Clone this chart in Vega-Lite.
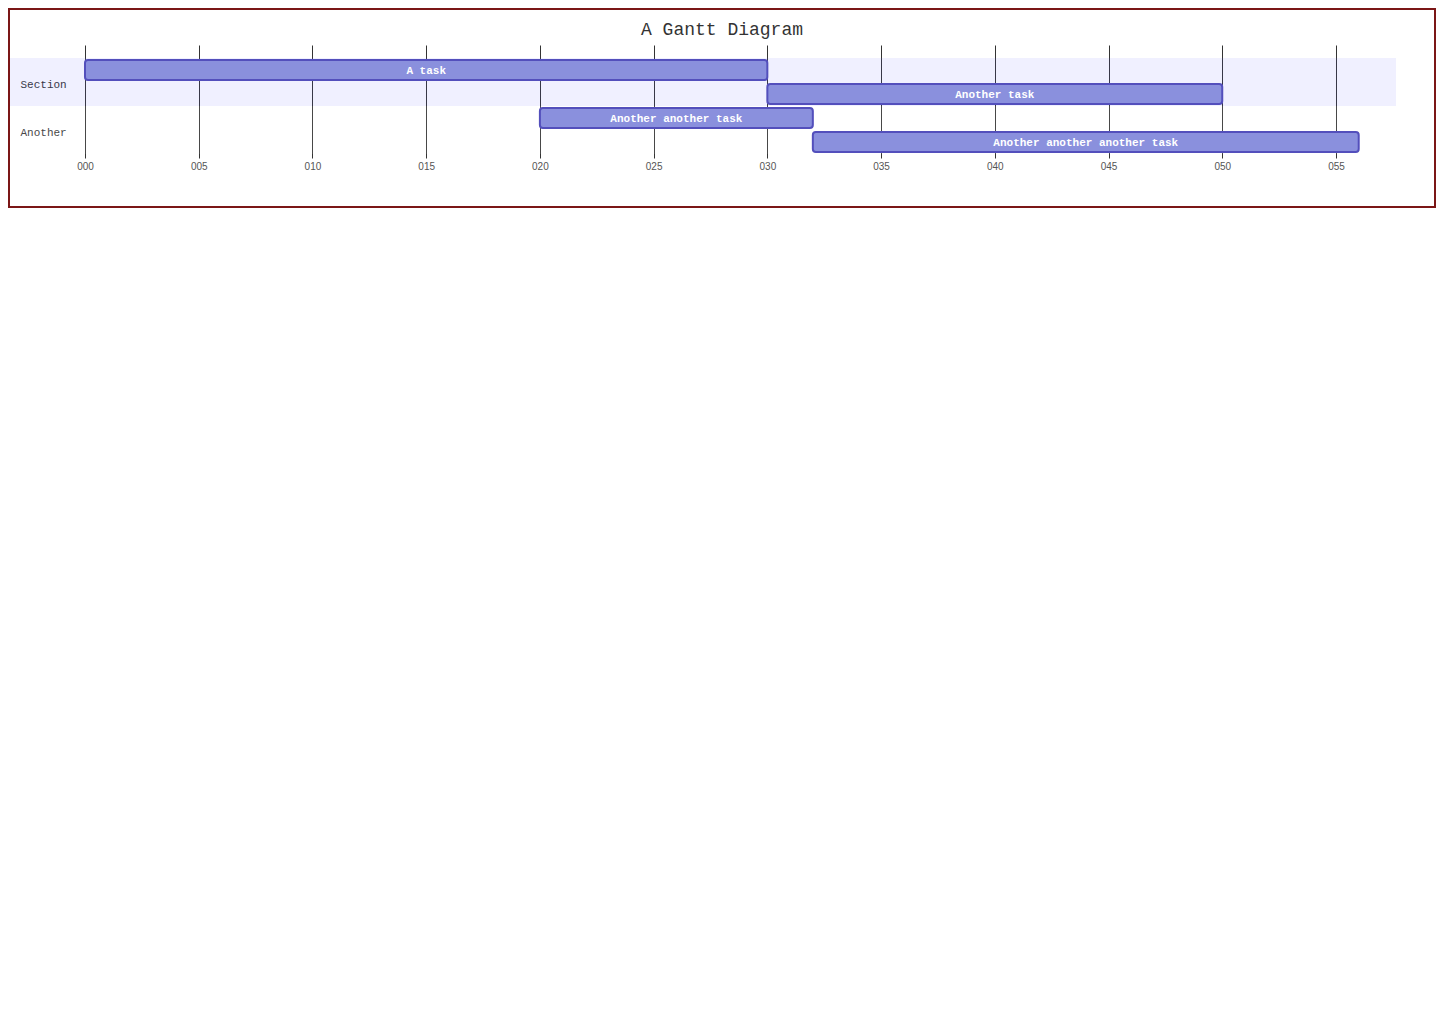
{
  "$schema": "https://vega.github.io/schema/vega-lite/v6.json",
  "autosize": {"type": "none"},
  "padding": {"left": 9, "top": 9, "right": 5, "bottom": 817},
  "width": 1426,
  "height": 198,
  "background": "white",
  "config": {
    "view": {"stroke": "#7b1616", "strokeWidth": 2, "fill": "white"}
  },
  "title": {
    "text": "A Gantt Diagram",
    "font": "Liberation Mono",
    "fontSize": 18,
    "fontWeight": "normal",
    "color": "#333333",
    "anchor": "middle",
    "frame": "group",
    "baseline": "alphabetic",
    "offset": -44
  },
  "datasets": {
    "tasks": [
      {"section": "Section", "task": "A task", "start": 0, "end": 30},
      {"section": "Section", "task": "Another task", "start": 30, "end": 50},
      {"section": "Another", "task": "Another another task", "start": 20, "end": 32},
      {"section": "Another", "task": "Another another another task", "start": 32, "end": 56}
    ],
    "sections": [
      {"section": "Section"},
      {"section": "Another"}
    ]
  },
  "resolve": {"scale": {"y": "independent", "color": "independent"}},
  "layer": [
    {
      "data": {"name": "sections"},
      "mark": {"type": "bar", "fillOpacity": 0.098, "strokeWidth": 0},
      "encoding": {
        "y": {
          "field": "section",
          "type": "nominal",
          "scale": {"domain": ["Section", "Another"], "paddingInner": 0, "paddingOuter": 0, "range": [49, 145]},
          "axis": {
            "orient": "left",
            "offset": -11,
            "title": null,
            "domain": false,
            "ticks": false,
            "labelPadding": 0,
            "labelAlign": "left",
            "labelBaseline": "middle",
            "labelOffset": 3,
            "labelFont": "Liberation Mono",
            "labelFontSize": 11,
            "labelColor": "#333333"
          }
        },
        "x": {
          "datum": -3.3,
          "type": "quantitative",
          "scale": {"domain": [-3.3414, 59.354], "nice": false, "zero": false}
        },
        "x2": {"datum": 57.64},
        "fill": {
          "field": "section",
          "type": "nominal",
          "scale": {"domain": ["Section", "Another"], "range": ["#6666ff", "#ffffff"]},
          "legend": null
        }
      }
    },
    {
      "data": {"name": "tasks"},
      "layer": [
        {
          "mark": {"type": "bar", "height": {"band": 0.8333}, "cornerRadius": 3, "fill": "#8a90dd", "stroke": "#534fbc", "strokeWidth": 2},
          "encoding": {
            "y": {
              "field": "task",
              "type": "nominal",
              "sort": null,
              "scale": {"domain": ["A task", "Another task", "Another another task", "Another another another task"], "paddingInner": 0, "paddingOuter": 0, "range": [49, 145]},
              "axis": null
            },
            "x": {
              "field": "start",
              "type": "quantitative",
              "scale": {"domain": [-3.3414, 59.354], "nice": false, "zero": false},
              "axis": {
                "orient": "bottom",
                "values": [0, 5, 10, 15, 20, 25, 30, 35, 40, 45, 50, 55],
                "format": "03d",
                "offset": -49,
                "tickSize": -113,
                "tickColor": "#333333",
                "tickWidth": 1,
                "domain": false,
                "grid": false,
                "title": null,
                "labelPadding": 116,
                "labelFont": "Liberation Sans",
                "labelFontSize": 10,
                "labelColor": "#555555"
              }
            },
            "x2": {"field": "end"}
          }
        },
        {
          "transform": [
            {"fold": ["start", "end"], "as": ["edge", "pos"]}
          ],
          "mark": {"type": "text", "font": "Liberation Mono", "fontSize": 11, "fontWeight": "bold", "fill": "white", "baseline": "middle", "align": "center", "dy": 1},
          "encoding": {
            "y": {
              "field": "task",
              "type": "nominal",
              "sort": null,
              "scale": {"domain": ["A task", "Another task", "Another another task", "Another another another task"], "paddingInner": 0, "paddingOuter": 0, "range": [49, 145]},
              "axis": null
            },
            "x": {"field": "pos", "type": "quantitative", "aggregate": "mean"},
            "text": {"field": "task", "type": "nominal"}
          }
        }
      ]
    }
  ]
}
